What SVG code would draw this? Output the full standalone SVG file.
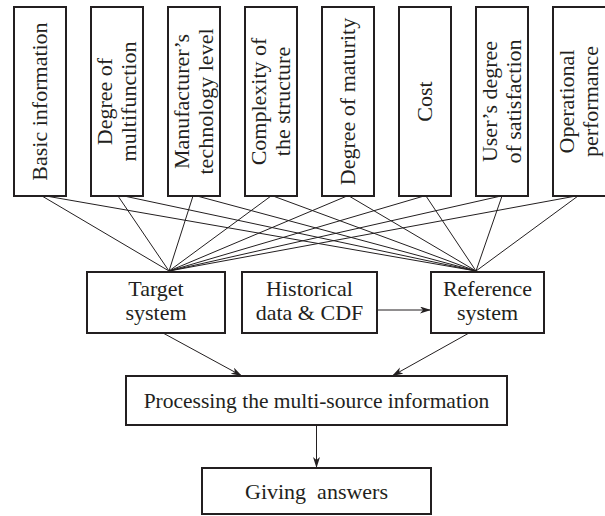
<svg xmlns="http://www.w3.org/2000/svg" width="605" height="516" viewBox="0 0 605 516">
<style>
.box{fill:#fff;stroke:#231f20;stroke-width:2}
.ln{stroke:#231f20;stroke-width:1;fill:none}
.ar{stroke:#231f20;stroke-width:1;fill:none;marker-end:url(#ah)}
text{font-family:"Liberation Serif","Times New Roman",serif;font-size:22px;fill:#231f20;text-anchor:middle}
</style>
<defs>
<marker id="ah" markerUnits="userSpaceOnUse" markerWidth="12" markerHeight="8" refX="11" refY="3.5" orient="auto">
<path d="M0,0 L11,3.5 L0,7 L3,3.5 z" fill="#231f20"/>
</marker>
</defs>
<g id="connectors">
<line class="ln" x1="42" y1="196" x2="169" y2="271"/>
<line class="ln" x1="46" y1="196" x2="476" y2="271"/>
<line class="ln" x1="118" y1="196" x2="169" y2="271"/>
<line class="ln" x1="124" y1="196" x2="476" y2="271"/>
<line class="ln" x1="193" y1="196" x2="169" y2="271"/>
<line class="ln" x1="197" y1="196" x2="476" y2="271"/>
<line class="ln" x1="271" y1="196" x2="169" y2="271"/>
<line class="ln" x1="273" y1="196" x2="476" y2="271"/>
<line class="ln" x1="347" y1="196" x2="169" y2="271"/>
<line class="ln" x1="349" y1="196" x2="476" y2="271"/>
<line class="ln" x1="424" y1="196" x2="169" y2="271"/>
<line class="ln" x1="426" y1="196" x2="476" y2="271"/>
<line class="ln" x1="501" y1="196" x2="169" y2="271"/>
<line class="ln" x1="502" y1="196" x2="476" y2="271"/>
<line class="ln" x1="576" y1="196" x2="169" y2="271"/>
<line class="ln" x1="578" y1="196" x2="476" y2="271"/>
<line class="ar" x1="377" y1="310" x2="431" y2="310"/>
<line class="ar" x1="163" y1="333" x2="242" y2="376"/>
<line class="ar" x1="469" y1="333" x2="392" y2="376"/>
<line class="ar" x1="316.5" y1="425" x2="316.5" y2="468"/>
</g>
<g id="n1"><rect class="box" x="14" y="7" width="52" height="189"/>
<text transform="translate(40,101.5) rotate(-90)" y="7">Basic information</text></g>
<g id="n2"><rect class="box" x="91" y="7" width="52" height="189"/>
<text transform="translate(117,101.5) rotate(-90)"><tspan x="0" y="-5.5">Degree of</tspan><tspan x="0" y="18.5">multifunction</tspan></text></g>
<g id="n3"><rect class="box" x="168" y="7" width="52" height="189"/>
<text transform="translate(194,101.5) rotate(-90)"><tspan x="0" y="-5.5">Manufacturer’s</tspan><tspan x="0" y="18.5">technology level</tspan></text></g>
<g id="n4"><rect class="box" x="245" y="7" width="52" height="189"/>
<text transform="translate(271,101.5) rotate(-90)"><tspan x="0" y="-5.5">Complexity of</tspan><tspan x="0" y="18.5">the structure</tspan></text></g>
<g id="n5"><rect class="box" x="322" y="7" width="52" height="189"/>
<text transform="translate(348,101.5) rotate(-90)" y="7">Degree of maturity</text></g>
<g id="n6"><rect class="box" x="399" y="7" width="52" height="189"/>
<text transform="translate(425,101.5) rotate(-90)" y="7">Cost</text></g>
<g id="n7"><rect class="box" x="476" y="7" width="52" height="189"/>
<text transform="translate(502,101.5) rotate(-90)"><tspan x="0" y="-5.5">User’s degree</tspan><tspan x="0" y="18.5">of satisfaction</tspan></text></g>
<g id="n8"><rect class="box" x="553" y="7" width="53" height="189"/>
<text transform="translate(579,101.5) rotate(-90)"><tspan x="0" y="-5.5">Operational</tspan><tspan x="0" y="18.5">performance</tspan></text></g>
<g id="target"><rect class="box" x="87" y="272" width="138" height="61"/>
<text x="156" y="296">Target</text><text x="156" y="320">system</text></g>
<g id="historical"><rect class="box" x="242" y="272" width="135" height="61"/>
<text x="309.5" y="296">Historical</text><text x="309.5" y="320">data &amp; CDF</text></g>
<g id="reference"><rect class="box" x="431" y="272" width="113" height="61"/>
<text x="487.5" y="296">Reference</text><text x="487.5" y="320">system</text></g>
<g id="processing"><rect class="box" x="126" y="376" width="381" height="49"/>
<text x="316.5" y="407.5" style="font-size:21.5px">Processing the multi-source information</text></g>
<g id="giving"><rect class="box" x="202" y="468" width="229" height="46"/>
<text x="316.5" y="498.5" xml:space="preserve">Giving  answers</text></g>
</svg>
